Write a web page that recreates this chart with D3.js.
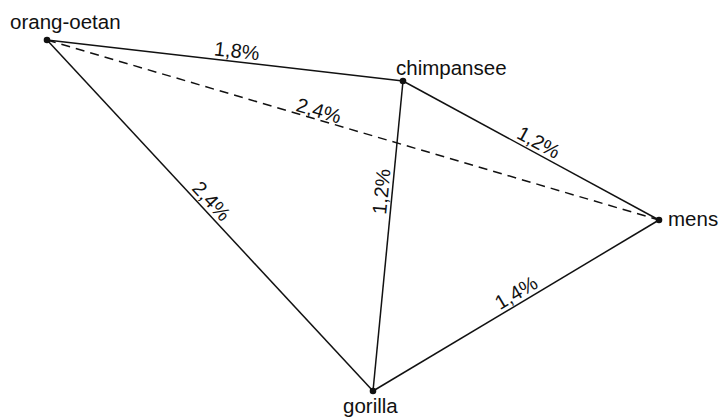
<!DOCTYPE html>
<html><head><meta charset="utf-8">
<script src="https://cdn.jsdelivr.net/npm/d3@7"></script>
<style>body{margin:0;background:#fff}svg{display:block}</style>
</head><body>
<svg id="c" width="725" height="417"></svg>
<script>
const species = ["orang-oetan","chimpansee","mens","gorilla"];
// layout of the nodes (pixel layout of the diagram)
const nodeX = [47, 403, 659, 373];
const nodeY = [40, 81, 220, 391];
const edgeSource = ["orang-oetan","orang-oetan","orang-oetan","chimpansee","chimpansee","gorilla"];
const edgeTarget = ["chimpansee","mens","gorilla","mens","gorilla","mens"];
const edgeValue  = [1.8, 2.4, 2.4, 1.2, 1.2, 1.4];
const edgeDashed = [false, true, false, false, false, false];
const labelAt    = [0.53, 0.44, 0.48, 0.51, 0.36, 0.52];

const svg = d3.select("#c");
const font = "'Liberation Sans', Arial, sans-serif";
const fmt = v => d3.format(".1f")(v).replace(".", ",") + "%";
const pos = name => { const i = species.indexOf(name); return [nodeX[i], nodeY[i]]; };

const edges = edgeSource.map((s, i) => ({ s: pos(s), t: pos(edgeTarget[i]), v: edgeValue[i], dashed: edgeDashed[i], at: labelAt[i] }));

svg.selectAll("line.e").data(edges).join("line")
  .attr("x1", d => d.s[0]).attr("y1", d => d.s[1])
  .attr("x2", d => d.t[0]).attr("y2", d => d.t[1])
  .attr("stroke", "#111").attr("stroke-width", 1.5)
  .attr("stroke-dasharray", d => d.dashed ? "9,6" : null);

svg.selectAll("text.l").data(edges).join("text")
  .attr("transform", d => {
    let [x1,y1] = d.s, [x2,y2] = d.t;
    if (x2 < x1) { [x1,y1,x2,y2] = [x2,y2,x1,y1]; }
    const x = d.s[0] + (d.t[0]-d.s[0]) * d.at, y = d.s[1] + (d.t[1]-d.s[1]) * d.at;
    const a = Math.atan2(y2-y1, x2-x1) * 180 / Math.PI;
    return `translate(${x},${y}) rotate(${a})`;
  })
  .attr("dy", d => d.dashed ? -2 : -4)
  .attr("text-anchor", "middle")
  .attr("font-family", font).attr("font-size", 20).attr("fill", "#111")
  .text(d => fmt(d.v));

svg.selectAll("circle").data(species).join("circle")
  .attr("cx", (d,i) => nodeX[i]).attr("cy", (d,i) => nodeY[i]).attr("r", 3.3).attr("fill", "#111");

const nameX = [10, 396, 668, 343];
const nameY = [29, 75, 226, 413];
svg.selectAll("text.n").data(species).join("text")
  .attr("x", (d,i) => nameX[i]).attr("y", (d,i) => nameY[i])
  .attr("font-family", font).attr("font-size", 20.5).attr("fill", "#111")
  .text(d => d);
</script>
</body></html>
